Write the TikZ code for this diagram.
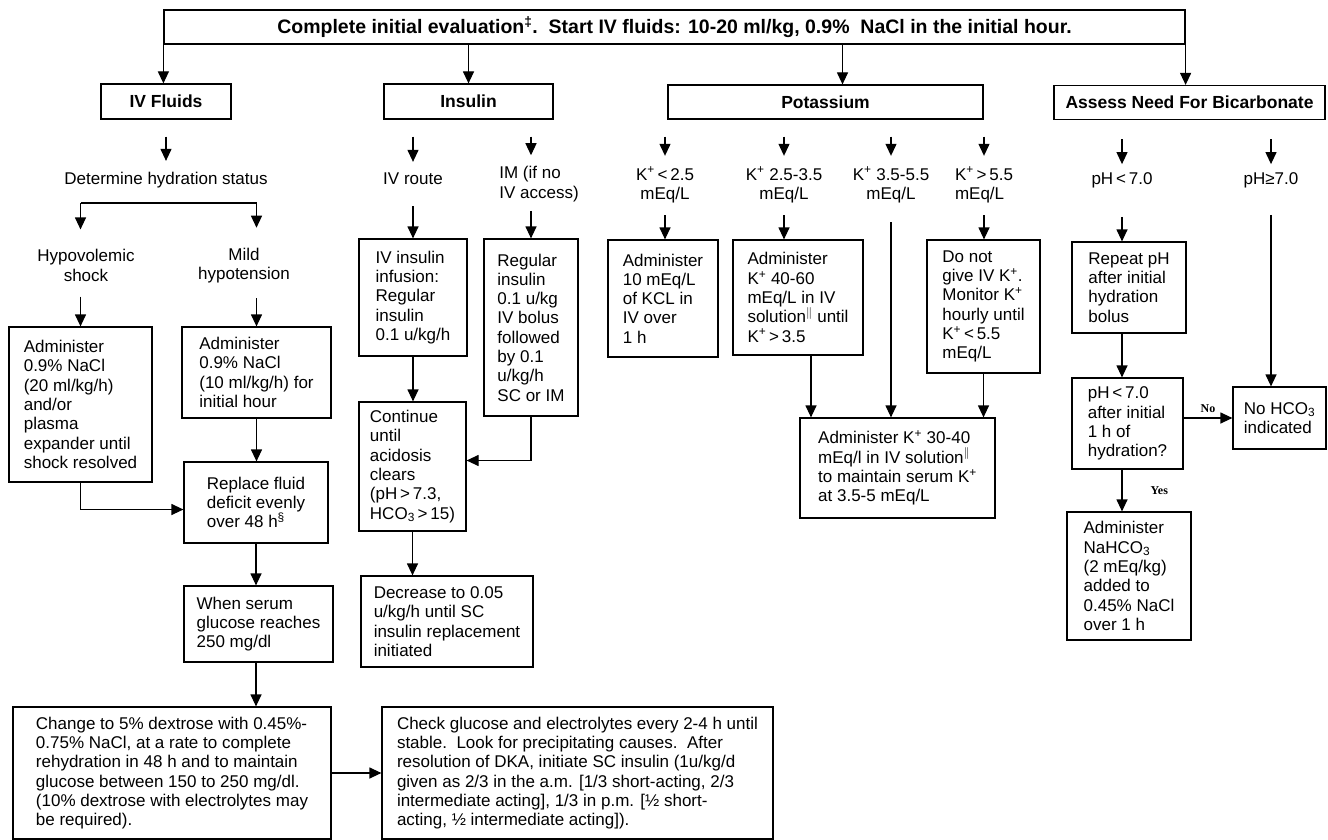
\documentclass[tikz,border=0pt]{standalone}
\usepackage{fontspec}
\setmainfont{Liberation Sans}
\newfontfamily\tagfont{Liberation Serif}
\usetikzlibrary{arrows.meta,calc}
\definecolor{figLine}{HTML}{000000}
\definecolor{figInk}{HTML}{000000}
\definecolor{figBg}{HTML}{FFFFFF}
\newcommand{\kion}{K\textsuperscript{+}}
\newcommand{\hco}{HCO\textsubscript{3}}
\newcommand{\fnbar}{\textsuperscript{$\|$}}
\tikzset{
  box/.style={draw=figLine,line width=1.2pt,text=figInk,align=left,inner sep=0pt,font=\fontsize{17}{19.3}\selectfont},
  head/.style={box,align=center,font=\fontsize{17.5}{19.3}\selectfont\bfseries},
  lbl/.style={text=figInk,align=center,inner sep=2pt,font=\fontsize{17}{19.3}\selectfont},
  tag/.style={text=figInk,inner sep=1pt,font=\fontsize{12}{13}\selectfont\tagfont\bfseries},
  line/.style={draw=figLine,line width=1.2pt},
  flow/.style={line,-{Triangle[length=12pt,width=11pt]}},
  cue/.style={flow,shorten <=17pt,shorten >=9pt},
}

\begin{document}
\begin{tikzpicture}[x=1pt,y=-1pt]
    % page
    \fill[figBg] (0,0) rectangle (1328,840);
    \useasboundingbox (0,0) rectangle (1328,840);
    % first step and the four headings
    \node[head,minimum width=1021pt,minimum height=34pt,font=\fontsize{19.5}{21}\selectfont\bfseries] (top) at (674.5,27) {Complete initial evaluation\textsuperscript{\ddag}.\ \ Start IV fluids: 10-20 ml/kg, 0.9\%\ \ NaCl in the initial hour.};
    \node[head,minimum width=130pt,minimum height=35pt] (fluids) at (166,101.5) {IV Fluids};
    \node[head,minimum width=169pt,minimum height=35pt] (insulin) at (468.5,101.5) {Insulin};
    \node[head,minimum width=315pt,minimum height=34pt] (potassium) at (825.5,102) {Potassium};
    \node[head,minimum width=271pt,minimum height=34pt] (bicarb) at (1189.5,102.5) {Assess Need For Bicarbonate};
    \draw[flow] (top.south west) -- (top.south west |- fluids.north);
    \draw[flow] (top.south -| insulin.north) -- (insulin.north);
    \draw[flow] ([xshift=17pt]potassium.north |- top.south) -- ([xshift=17pt]potassium.north);
    \draw[flow] (top.south east) -- (top.south east |- bicarb.north);

    % IV fluids
    \node[lbl] (hydration) at (166,180) {Determine hydration status};
    \node[lbl] (shock) at (86,265.5) {Hypovolemic\\shock};
    \node[lbl] (hypot) at (244,265.5) {Mild\\hypotension};
    \node[box,minimum width=143pt,minimum height=155pt] (shockbox) at (80.5,404.5) {Administer\\0.9\% NaCl\\(20 ml/kg/h)\\and/or\\plasma\\expander until\\shock resolved};
    \node[box,minimum width=149pt,minimum height=91pt] (hypotbox) at (256.5,372.5) {Administer\\0.9\% NaCl\\(10 ml/kg/h) for\\initial hour};
    \node[box,minimum width=144pt,minimum height=81pt] (replace) at (256,502.5) {Replace fluid\\deficit evenly\\over 48 h\textsuperscript{\S}};
    \node[box,minimum width=149pt,minimum height=76pt] (when) at (258.5,624) {When serum\\glucose reaches\\250 mg/dl};
    \node[box,minimum width=318pt,minimum height=132pt] (change) at (172,773) {Change to 5\% dextrose with 0.45\%-\\0.75\% NaCl, at a rate to complete\\rehydration in 48 h and to maintain\\glucose between 150 to 250 mg/dl.\\(10\% dextrose with electrolytes may\\be required).};
    \node[box,minimum width=391pt,minimum height=132pt] (check) at (577.5,773) {Check glucose and electrolytes every 2-4 h until\\stable.\ \ Look for precipitating causes.\ \ After\\resolution of DKA, initiate SC insulin (1u/kg/d\\given as 2/3 in the a.m. [1/3 short-acting, 2/3\\intermediate acting], 1/3 in p.m. [½ short-\\acting, ½ intermediate acting]).};
    \coordinate (fork) at (166,203);
    \draw[cue] (fluids.south) -- (hydration.north);
    \draw[line] (fork -| shockbox.north) -- (fork -| hypotbox.north);
    \draw[flow,shorten >=18pt] (fork -| shockbox.north) -- (shockbox.north |- shock.north);
    \draw[flow,shorten >=18pt] (fork -| hypotbox.north) -- (hypotbox.north |- hypot.north);
    \draw[flow,shorten <=13pt] (shock.south -| shockbox.north) -- (shockbox.north);
    \draw[flow,shorten <=13pt] (hypot.south -| hypotbox.north) -- (hypotbox.north);
    \draw[flow] (hypotbox.south) -- (hypotbox.south |- replace.north);
    \draw[flow] (shockbox.south) |- ([yshift=-7pt]replace.west);
    \draw[flow] (replace.south) -- (replace.south |- when.north);
    \draw[flow] (replace.south |- when.south) -- (replace.south |- change.north);
    \draw[flow] (change.east) -- (check.west);

    % insulin
    \node[lbl] (ivroute) at (413,179) {IV route};
    \node[lbl,align=left] (imroute) at (539,184) {IM (if no\\IV access)};
    \node[box,minimum width=108pt,minimum height=117pt] (ivinf) at (413,297.5) {IV insulin\\infusion:\\Regular\\insulin\\0.1 u/kg/h};
    \node[box,minimum width=94pt,minimum height=177pt] (bolus) at (531,327.5) {Regular\\insulin\\0.1 u/kg\\IV bolus\\followed\\by 0.1\\u/kg/h\\SC or IM};
    \node[box,minimum width=107pt,minimum height=129pt] (clears) at (412.5,466.5) {Continue\\until\\acidosis\\clears\\(pH\,>\,7.3,\\\hco\,>\,15)};
    \node[box,minimum width=172pt,minimum height=91pt] (taper) at (447,621.5) {Decrease to 0.05\\u/kg/h until SC\\insulin replacement\\initiated};
    \draw[cue] (insulin.south -| ivroute) -- (ivroute.north);
    \draw[cue] (insulin.south -| bolus.north) -- (bolus.north |- imroute.north);
    \draw[flow,shorten <=19pt] (ivroute.south) -- (ivroute.south |- ivinf.north);
    \draw[flow,shorten <=7pt] (bolus.north |- imroute.south) -- (bolus.north);
    \draw[flow] (ivinf.south) -- (ivinf.south |- clears.north);
    \draw[flow] (bolus.south) |- ([yshift=6pt]clears.east);
    \draw[flow] (clears.south) -- (clears.south |- taper.north);

    % potassium
    \node[lbl] (klow) at (665,185) {\kion\,<\,2.5\\mEq/L};
    \node[lbl] (kmid) at (784,185) {\kion{} 2.5-3.5\\mEq/L};
    \node[lbl] (knorm) at (891,185) {\kion{} 3.5-5.5\\mEq/L};
    \node[lbl,align=left] (khigh) at (984,185) {\kion\,>\,5.5\\mEq/L};
    \node[box,minimum width=110pt,minimum height=117pt] (klowbox) at (663,298.5) {Administer\\10 mEq/L\\of KCL in\\IV over\\1 h};
    \node[box,minimum width=130pt,minimum height=115pt] (kmidbox) at (798,297.5) {Administer\\\kion{} 40-60\\mEq/L in IV\\solution\fnbar{} until\\\kion\,>\,3.5};
    \node[box,minimum width=113pt,minimum height=133pt] (khighbox) at (983.5,306.5) {Do not\\give IV \kion.\\Monitor \kion\\hourly until\\\kion\,<\,5.5\\mEq/L};
    \node[box,minimum width=195pt,minimum height=100pt] (kfinal) at (897.5,468) {Administer \kion{} 30-40\\mEq/l in IV solution\fnbar\\to maintain serum \kion\\at 3.5-5 mEq/L};
    \draw[cue] (potassium.south -| klow) -- (klow.north);
    \draw[cue] (potassium.south -| kmid) -- (kmid.north);
    \draw[cue] (potassium.south -| knorm) -- (knorm.north);
    \draw[cue] (potassium.south -| khigh) -- (khigh.north);
    \draw[flow,shorten <=10pt] (klow.south) -- (klow.south |- klowbox.north);
    \draw[flow,shorten <=10pt] (kmid.south) -- (kmid.south |- kmidbox.north);
    \draw[flow,shorten <=10pt] (khigh.south) -- (khigh.south |- khighbox.north);
    \draw[flow,shorten <=17pt] (knorm.south) -- (knorm.south |- kfinal.north);
    \draw[flow] ([xshift=13pt]kmidbox.south) -- ([xshift=13pt]kmidbox.south |- kfinal.north);
    \draw[flow] (khighbox.south) -- (khighbox.south |- kfinal.north);

    % bicarbonate
    \node[lbl] (acid) at (1122,180) {pH\,<\,7.0};
    \node[lbl] (base) at (1271,180) {pH≥7.0};
    \node[box,minimum width=114pt,minimum height=91pt] (recheck) at (1129,287.5) {Repeat pH\\after initial\\hydration\\bolus};
    \node[box,minimum width=111pt,minimum height=91pt] (query) at (1127.5,423.5) {pH\,<\,7.0\\after initial\\1 h of\\hydration?};
    \node[box,minimum width=93pt,minimum height=62pt] (noneed) at (1279.5,418) {No \hco\\indicated};
    \node[box,minimum width=124pt,minimum height=128pt] (dose) at (1129,576) {Administer\\NaHCO\textsubscript{3}\\(2 mEq/kg)\\added to\\0.45\% NaCl\\over 1 h};
    \draw[cue,shorten <=19pt,shorten >=6pt] (bicarb.south -| acid) -- (acid.north);
    \draw[cue,shorten <=19pt,shorten >=6pt] (bicarb.south -| base) -- (base.north);
    \draw[flow,shorten <=27pt] (acid.south) -- (acid.south |- recheck.north);
    \draw[flow] (acid |- recheck.south) -- (acid |- query.north);
    \draw[flow] (noneed.west -| query.east) -- (noneed.west) node[tag,midway,above=4pt] (nolbl) {No};
    \draw[flow,shorten <=25pt] (base.south) -- (base.south |- noneed.north);
    \draw[flow] (acid |- query.south) -- (acid |- dose.north) node[tag,midway,right=27pt] (yeslbl) {Yes};
\end{tikzpicture}
\end{document}
